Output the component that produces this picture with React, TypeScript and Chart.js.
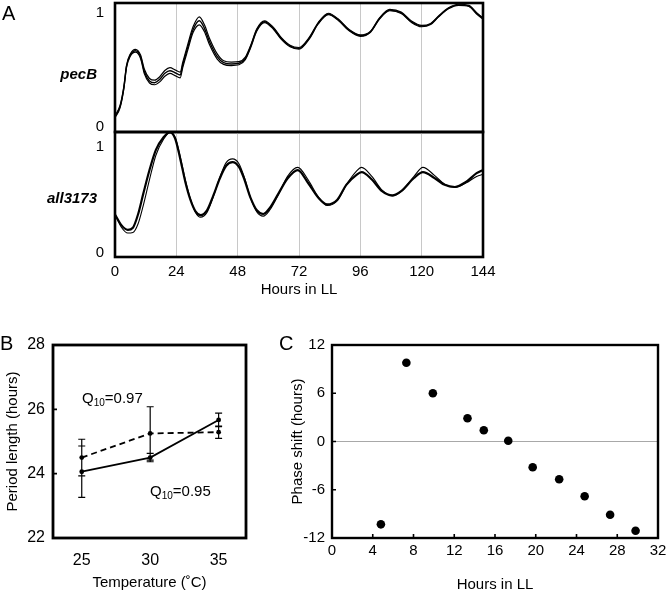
import React, { useEffect, useRef } from "react";
import { Chart, registerables } from "chart.js";
Chart.register(...registerables);

const W = 666;
const H = 593;
const FONT = "'Liberation Sans', Arial, Helvetica, sans-serif";

// ---------- Panel A data (hours in LL, normalized luminescence) ----------
const hoursTicksA = [0, 24, 48, 72, 96, 120, 144];

const pecTime = [0, 2, 3.5, 4.5, 6, 8, 10, 11.5, 13.5, 15.5, 17.5, 19.5, 21.5, 23.5, 25.5, 26.5, 28.5, 30.5, 33, 35, 37, 40, 42.5, 45.5, 48.5, 51, 53, 55.5, 58.5, 62, 65, 68.5, 72, 76, 79.5, 83.5, 87.5, 91.5, 96, 100, 103.5, 107.5, 112, 116, 120, 123.5, 126.5, 130.5, 134.5, 138.5, 141.5, 144];
const pecMid = [0.09, 0.18, 0.35, 0.53, 0.63, 0.668, 0.615, 0.484, 0.403, 0.388, 0.417, 0.47, 0.493, 0.475, 0.455, 0.543, 0.7, 0.85, 0.93, 0.864, 0.747, 0.616, 0.563, 0.552, 0.558, 0.6, 0.7, 0.85, 0.922, 0.864, 0.777, 0.709, 0.689, 0.777, 0.908, 0.99, 0.937, 0.85, 0.8, 0.835, 0.95, 1.024, 1.0, 0.922, 0.884, 0.902, 0.966, 1.04, 1.07, 1.06, 0.996, 0.95];
const pecHi = [0.1, 0.19, 0.36, 0.54, 0.64, 0.68, 0.63, 0.505, 0.425, 0.41, 0.44, 0.495, 0.52, 0.5, 0.48, 0.565, 0.725, 0.875, 0.965, 0.895, 0.775, 0.64, 0.58, 0.568, 0.572, 0.612, 0.71, 0.86, 0.93, 0.872, 0.785, 0.716, 0.696, 0.784, 0.914, 0.996, 0.943, 0.856, 0.806, 0.84, 0.955, 1.03, 1.006, 0.928, 0.89, 0.907, 0.97, 1.045, 1.075, 1.065, 1.0, 0.955];
const pecLo = [0.08, 0.17, 0.34, 0.52, 0.62, 0.655, 0.6, 0.465, 0.385, 0.37, 0.395, 0.445, 0.47, 0.45, 0.43, 0.52, 0.675, 0.825, 0.895, 0.835, 0.72, 0.595, 0.548, 0.538, 0.545, 0.59, 0.69, 0.84, 0.914, 0.856, 0.77, 0.702, 0.682, 0.77, 0.902, 0.984, 0.931, 0.844, 0.794, 0.83, 0.945, 1.018, 0.994, 0.916, 0.878, 0.897, 0.962, 1.035, 1.065, 1.055, 0.99, 0.945];

const allTime = [0, 2.5, 5, 7, 9, 11, 13.5, 16, 19, 21.5, 23.5, 25.5, 27.5, 29.5, 31.5, 33.5, 36, 38.5, 41, 43.5, 46, 48.5, 50.5, 53, 55.5, 58, 60.5, 64, 67.5, 71.5, 75.5, 79.5, 83, 87, 90.5, 94.5, 96.5, 100.5, 104.5, 108.5, 112, 117, 120.5, 125, 129, 133, 137.5, 141.5, 144];
const allMain = [0.36, 0.26, 0.215, 0.235, 0.36, 0.55, 0.78, 0.97, 1.09, 1.135, 1.08, 0.89, 0.67, 0.5, 0.39, 0.355, 0.4, 0.54, 0.7, 0.82, 0.855, 0.81, 0.7, 0.52, 0.4, 0.365, 0.42, 0.56, 0.7, 0.78, 0.66, 0.52, 0.455, 0.5, 0.64, 0.735, 0.76, 0.69, 0.58, 0.54, 0.58, 0.705, 0.76, 0.705, 0.64, 0.62, 0.67, 0.75, 0.78];
const allAlt = [0.36, 0.24, 0.185, 0.19, 0.27, 0.44, 0.69, 0.92, 1.07, 1.135, 1.09, 0.91, 0.69, 0.51, 0.38, 0.335, 0.38, 0.53, 0.71, 0.85, 0.885, 0.84, 0.72, 0.52, 0.385, 0.345, 0.4, 0.55, 0.72, 0.805, 0.69, 0.53, 0.445, 0.49, 0.64, 0.77, 0.805, 0.72, 0.59, 0.535, 0.58, 0.72, 0.805, 0.73, 0.645, 0.615, 0.66, 0.72, 0.74];

// ---------- Panel B data ----------
const temps = [25, 30, 35];
const tempTicks = [25, 30, 35];
const periodDashed = [24.5, 25.25, 25.29];
const errDashed = [0.57, 0.83, 0.19];
const periodSolid = [24.06, 24.5, 25.67];
const errSolid = [0.8, 0.13, 0.21];

// ---------- Panel C data ----------
const pulseHours = [4.8, 7.3, 9.9, 13.3, 14.9, 17.3, 19.7, 22.3, 24.8, 27.3, 29.8];
const phaseShift = [-10.3, 9.8, 6.0, 2.9, 1.4, 0.1, -3.2, -4.7, -6.8, -9.1, -11.1];

// ---------- plugins ----------
const boxPlugin = (lw: number) => ({
  id: "box",
  afterDraw(chart: any) {
    const { ctx, chartArea: a } = chart;
    ctx.save();
    ctx.strokeStyle = "#000";
    ctx.lineWidth = lw;
    ctx.strokeRect(a.left, a.top, a.right - a.left, a.bottom - a.top);
    ctx.restore();
  },
});

const innerTicksPlugin = (doX: boolean, doY: boolean, len: number) => ({
  id: "innerTicks",
  afterDraw(chart: any) {
    const { ctx, chartArea: a, scales } = chart;
    ctx.save();
    ctx.strokeStyle = "#000";
    ctx.lineWidth = 1.6;
    ctx.beginPath();
    if (doX) {
      scales.x.ticks.forEach((t: any) => {
        if (t.value <= scales.x.min || t.value >= scales.x.max) return;
        const px = scales.x.getPixelForValue(t.value);
        ctx.moveTo(px, a.bottom);
        ctx.lineTo(px, a.bottom - len);
      });
    }
    if (doY) {
      scales.y.ticks.forEach((t: any) => {
        if (t.value <= scales.y.min || t.value >= scales.y.max) return;
        const py = scales.y.getPixelForValue(t.value);
        ctx.moveTo(a.left, py);
        ctx.lineTo(a.left + len, py);
      });
    }
    ctx.stroke();
    ctx.restore();
  },
});

const errorBarPlugin = {
  id: "errorBars",
  afterDatasetsDraw(chart: any) {
    const { ctx, scales } = chart;
    const sets = [
      { v: periodDashed, e: errDashed },
      { v: periodSolid, e: errSolid },
    ];
    ctx.save();
    ctx.strokeStyle = "#000";
    ctx.lineWidth = 1.2;
    ctx.beginPath();
    sets.forEach((s) => {
      temps.forEach((t, i) => {
        const px = scales.x.getPixelForValue(t);
        const top = scales.y.getPixelForValue(s.v[i] + s.e[i]);
        const bot = scales.y.getPixelForValue(s.v[i] - s.e[i]);
        ctx.moveTo(px, top);
        ctx.lineTo(px, bot);
        ctx.moveTo(px - 3.5, top);
        ctx.lineTo(px + 3.5, top);
        ctx.moveTo(px - 3.5, bot);
        ctx.lineTo(px + 3.5, bot);
      });
    });
    ctx.stroke();
    ctx.restore();
  },
};

const xy = (xs: number[], ys: number[]) => xs.map((x, i) => ({ x, y: ys[i] }));

const traceStyle = (w: number) => ({
  borderColor: "#000",
  borderWidth: w,
  pointRadius: 0,
  fill: false,
  cubicInterpolationMode: "monotone" as const,
});

const fitX = (h: number) => (s: any) => {
  s.height = h;
  s.paddingLeft = 0;
  s.paddingRight = 0;
  s.paddingTop = 0;
  s.paddingBottom = 0;
};
const fitY = (w: number) => (s: any) => {
  s.width = w;
  s.paddingLeft = 0;
  s.paddingRight = 0;
  s.paddingTop = 0;
  s.paddingBottom = 0;
};

function makeTopA(): any {
  return {
    type: "line",
    data: {
      datasets: [
        { data: xy(pecTime, pecHi), ...traceStyle(1.2) },
        { data: xy(pecTime, pecMid), ...traceStyle(1.4) },
        { data: xy(pecTime, pecLo), ...traceStyle(1.2) },
      ],
    },
    options: {
      responsive: false,
      animation: false,
      layout: { padding: { left: 75, right: 183, top: 3, bottom: 461 } },
      plugins: { legend: { display: false }, tooltip: { enabled: false } },
      scales: {
        x: {
          type: "linear",
          min: 0,
          max: 144,
          afterBuildTicks: (s: any) => { s.ticks = hoursTicksA.map((v) => ({ value: v })); },
          ticks: { display: false },
          grid: { color: "#c8c8c8", lineWidth: 1, drawTicks: false },
          border: { display: false },
          afterFit: fitX(0),
        },
        y: {
          min: -0.044,
          max: 1.086,
          afterBuildTicks: (s: any) => { s.ticks = [{ value: 0 }, { value: 1 }]; },
          ticks: { padding: 11, font: { size: 15 } },
          grid: { display: false, drawTicks: false },
          border: { display: false },
          afterFit: fitY(40),
        },
      },
    },
    plugins: [boxPlugin(2.6)],
  };
}

function makeBottomA(): any {
  return {
    type: "line",
    data: {
      datasets: [
        { data: xy(allTime, allAlt), ...traceStyle(1.1) },
        { data: xy(allTime, allMain), ...traceStyle(2.2) },
      ],
    },
    options: {
      responsive: false,
      animation: false,
      layout: { padding: { left: 75, right: 183, top: 132, bottom: 293 } },
      plugins: { legend: { display: false }, tooltip: { enabled: false } },
      scales: {
        x: {
          type: "linear",
          min: 0,
          max: 144,
          afterBuildTicks: (s: any) => { s.ticks = hoursTicksA.map((v) => ({ value: v })); },
          ticks: { padding: 6, font: { size: 15 }, autoSkip: false, maxRotation: 0 },
          grid: { color: "#c8c8c8", lineWidth: 1, drawTicks: false },
          border: { display: false },
          title: { display: true, text: "Hours in LL", font: { size: 15 }, padding: { top: 0, bottom: 1 } },
          afterFit: fitX(43),
        },
        y: {
          min: -0.041,
          max: 1.139,
          afterBuildTicks: (s: any) => { s.ticks = [{ value: 0 }, { value: 1 }]; },
          ticks: { padding: 11, font: { size: 15 } },
          grid: { display: false, drawTicks: false },
          border: { display: false },
          afterFit: fitY(40),
        },
      },
    },
    plugins: [boxPlugin(2.6)],
  };
}

function makeB(): any {
  return {
    type: "line",
    data: {
      datasets: [
        {
          data: xy(temps, periodDashed),
          borderColor: "#000",
          borderWidth: 1.8,
          borderDash: [6, 4],
          pointRadius: 2.4,
          pointBackgroundColor: "#000",
          pointBorderWidth: 0,
          tension: 0,
        },
        {
          data: xy(temps, periodSolid),
          borderColor: "#000",
          borderWidth: 1.8,
          pointRadius: 2.4,
          pointBackgroundColor: "#000",
          pointBorderWidth: 0,
          tension: 0,
        },
      ],
    },
    options: {
      responsive: false,
      animation: false,
      layout: { padding: { left: 0, right: 420, top: 345, bottom: 1 } },
      plugins: { legend: { display: false }, tooltip: { enabled: false } },
      scales: {
        x: {
          type: "linear",
          min: 22.9,
          max: 37,
          afterBuildTicks: (s: any) => { s.ticks = tempTicks.map((v) => ({ value: v })); },
          ticks: { padding: 13, font: { size: 16 }, maxRotation: 0 },
          grid: { display: false, drawTicks: false },
          border: { display: false },
          title: { display: true, text: "Temperature (˚C)", font: { size: 15 }, padding: { top: 0, bottom: 0 } },
          afterFit: fitX(54),
        },
        y: {
          min: 22,
          max: 28,
          ticks: { stepSize: 2, padding: 8, font: { size: 16 } },
          grid: { display: false, drawTicks: false },
          border: { display: false },
          title: { display: true, text: "Period length (hours)", font: { size: 15 }, padding: { top: 4, bottom: 0 } },
          afterFit: fitY(53),
        },
      },
    },
    plugins: [errorBarPlugin, innerTicksPlugin(false, true, 4), boxPlugin(2.8)],
  };
}

function makeC(): any {
  return {
    type: "scatter",
    data: {
      datasets: [
        {
          data: xy(pulseHours, phaseShift),
          pointRadius: 4.3,
          pointBackgroundColor: "#000",
          pointBorderWidth: 0,
          showLine: false,
        },
      ],
    },
    options: {
      responsive: false,
      animation: false,
      layout: { padding: { left: 289, right: 8, top: 345, bottom: 0 } },
      plugins: { legend: { display: false }, tooltip: { enabled: false } },
      scales: {
        x: {
          type: "linear",
          min: 0,
          max: 32,
          ticks: { stepSize: 4, padding: 4, font: { size: 15 }, maxRotation: 0, autoSkip: false },
          grid: { display: false, drawTicks: false },
          border: { display: false },
          title: { display: true, text: "Hours in LL", font: { size: 15, lineHeight: 1.1 }, padding: { top: 0, bottom: 0 } },
          afterFit: fitX(55),
        },
        y: {
          min: -12,
          max: 12,
          ticks: { stepSize: 6, padding: 7, font: { size: 15 } },
          grid: {
            drawTicks: false,
            lineWidth: 1,
            color: (c: any) => (c.tick && c.tick.value === 0 ? "#a8a8a8" : "rgba(0,0,0,0)"),
          },
          border: { display: false },
          title: { display: true, text: "Phase shift (hours)", font: { size: 15 }, padding: { top: 0, bottom: 0 } },
          afterFit: fitY(43),
        },
      },
    },
    plugins: [innerTicksPlugin(true, true, 4), boxPlugin(2.4)],
  };
}

function ChartCanvas({ make }: { make: () => any }) {
  const ref = useRef<HTMLCanvasElement | null>(null);
  useEffect(() => {
    if (!ref.current) return;
    const chart = new Chart(ref.current, make());
    return () => chart.destroy();
  }, [make]);
  return (
    <canvas
      ref={ref}
      width={W}
      height={H}
      style={{ position: "absolute", left: 0, top: 0, width: W, height: H }}
    />
  );
}

function Label({ text, left, right, baseline, size, bold, italic }: any) {
  const style: any = {
    position: "absolute",
    top: baseline - 0.8465 * size,
    fontSize: size,
    lineHeight: 1,
    fontWeight: bold ? "bold" : "normal",
    fontStyle: italic ? "italic" : "normal",
    whiteSpace: "nowrap",
    color: "#000",
  };
  if (left !== undefined) style.left = left;
  if (right !== undefined) { style.right = W - right; style.textAlign = "right"; }
  return <div style={style}>{text}</div>;
}

function Q10({ left, baseline, value }: any) {
  const size = 15;
  return (
    <div
      style={{
        position: "absolute",
        left,
        top: baseline - 0.8465 * size,
        fontSize: size,
        lineHeight: 1,
        whiteSpace: "nowrap",
        color: "#000",
      }}
    >
      Q<span style={{ fontSize: 10, lineHeight: 0, position: "relative", top: 3 }}>10</span>={value}
    </div>
  );
}

Chart.defaults.font.family = FONT;
Chart.defaults.color = "#000";

export default function App() {
  return (
    <div
      style={{
        position: "fixed",
        left: 0,
        top: 0,
        width: W,
        height: H,
        background: "#fff",
        fontFamily: FONT,
        overflow: "hidden",
      }}
    >
      <ChartCanvas make={makeTopA} />
      <ChartCanvas make={makeBottomA} />
      <ChartCanvas make={makeB} />
      <ChartCanvas make={makeC} />
      <Label text="A" left={2} baseline={20} size={20} />
      <Label text="B" left={0} baseline={350} size={20} />
      <Label text="C" left={279} baseline={350} size={20} />
      <Label text="pecB" right={97} baseline={78.4} size={15} bold italic />
      <Label text="all3173" right={97} baseline={202.4} size={15} bold italic />
      <Q10 left={82} baseline={402.4} value="0.97" />
      <Q10 left={150} baseline={495.4} value="0.95" />
    </div>
  );
}
